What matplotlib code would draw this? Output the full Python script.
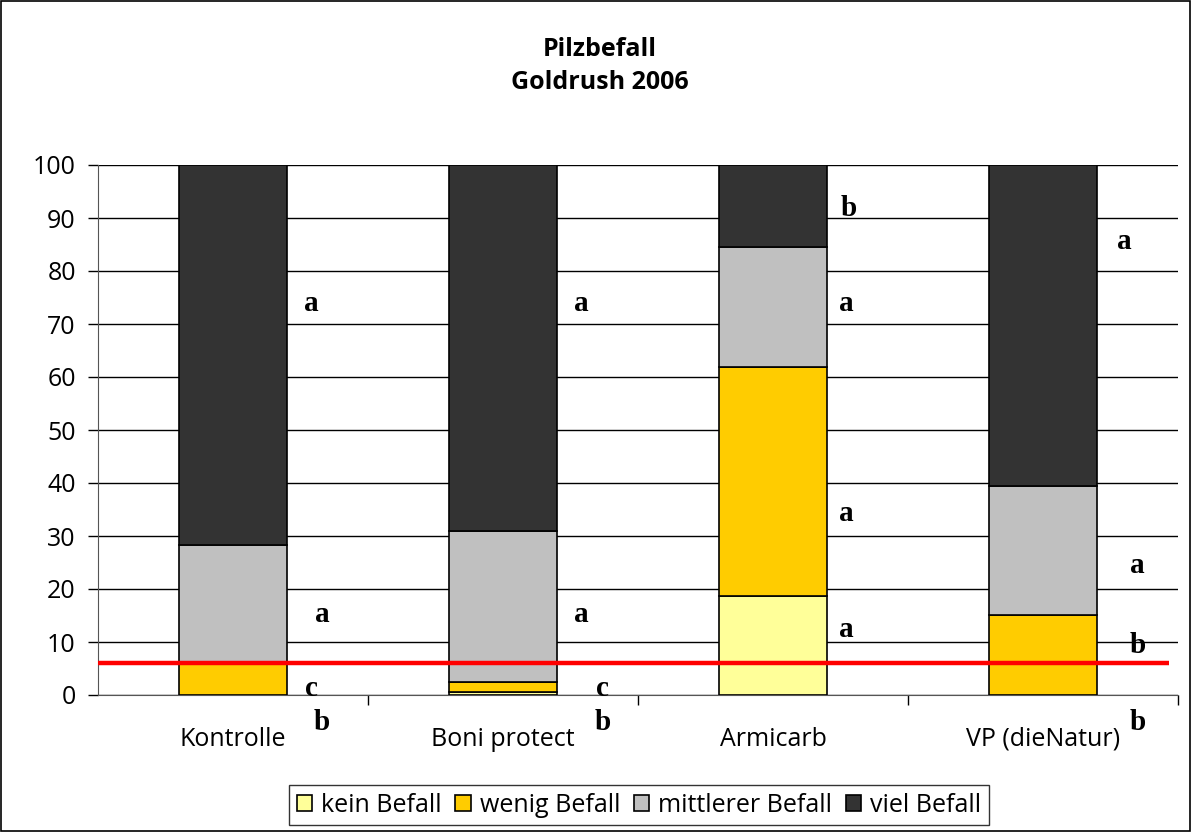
import matplotlib
matplotlib.use("Agg")
import matplotlib.pyplot as plt
from matplotlib.patches import Rectangle, Patch
import numpy as np

categories = ["Kontrolle", "Boni protect", "Armicarb", "VP (dieNatur)"]
series_names = ["kein Befall", "wenig Befall", "mittlerer Befall", "viel Befall"]
kein = [0.0, 0.5, 18.7, 0.0]
wenig = [6.0, 2.0, 43.2, 15.1]
mittlerer = [22.3, 28.4, 22.6, 24.3]
viel = [71.7, 69.1, 15.5, 60.6]
colors = ["#FFFF99", "#FFCC00", "#C0C0C0", "#333333"]
threshold = 6.0
yticks = list(range(0, 101, 10))

# significance letters: (category x, y, letter)
letter_x = [0.29, 0.33, 0.29, 0.33,
            1.29, 1.29, 1.37, 1.37,
            2.28, 2.27, 2.27, 2.27,
            3.30, 3.35, 3.35, 3.35]
letter_y = [73.8, 15.1, 1.3, -5.1,
            73.8, 15.1, 1.3, -5.1,
            91.7, 73.8, 34.3, 12.3,
            85.5, 24.5, 9.4, -5.1]
letter_txt = ["a", "a", "c", "b",
              "a", "a", "c", "b",
              "b", "a", "a", "a",
              "a", "a", "b", "b"]

FONT = "Open Sans"
plt.rcParams["font.family"] = [FONT, "DejaVu Sans"]

fig = plt.figure(figsize=(11.92, 8.32), dpi=100)
ax = fig.add_axes([98/1192, 137/832, 1080/1192, 530/832])

x = np.arange(len(categories))
bottom = np.zeros(len(categories))
for vals, col, name in zip([kein, wenig, mittlerer, viel], colors, series_names):
    ax.bar(x, vals, width=0.4, bottom=bottom, color=col, edgecolor="black",
           linewidth=1.2, label=name, zorder=3)
    bottom += np.array(vals)

ax.set_xlim(-0.5, len(categories) - 0.5)
ax.set_ylim(0, 100)
ax.set_yticks(yticks)
ax.yaxis.grid(True, color="black", linewidth=1.0, zorder=0)
ax.set_axisbelow(True)
ax.tick_params(axis="y", labelsize=18, length=7, width=1, pad=9, direction="out")
ax.set_xticks(x)
ax.set_xticklabels(categories, fontsize=18)
ax.set_xticks(np.arange(-0.5, len(categories), 1.0)[1:], minor=True)
ax.tick_params(axis="x", which="major", length=0, pad=23)
ax.tick_params(axis="x", which="minor", length=7, width=1, direction="out")
for s in ["top", "right"]:
    ax.spines[s].set_visible(False)
ax.spines["left"].set_color("#555555")
ax.spines["bottom"].set_color("#555555")

ax.plot([-0.5, 3.467], [threshold, threshold], color="#FF0000", linewidth=3.2,
        zorder=5, clip_on=False, solid_capstyle="butt")

for lx, ly, lt in zip(letter_x, letter_y, letter_txt):
    ax.text(lx, ly, lt, fontsize=21, fontweight="bold", family="Liberation Serif",
            ha="center", va="center", clip_on=False, zorder=6)

fig.text(600/1192, 1 - 66/832, "Pilzbefall\nGoldrush 2006", ha="center", va="center",
         fontsize=18, fontweight="bold", linespacing=1.45)

handles = [Patch(facecolor=c, edgecolor="black", linewidth=1.2) for c in colors]
leg = fig.legend(handles, series_names, loc="center", bbox_to_anchor=(639/1192, 1 - 805/832),
                 ncol=4, fontsize=18, frameon=True, fancybox=False, edgecolor="black",
                 handlelength=0.62, handleheight=0.62, handletextpad=0.35, columnspacing=0.55,
                 borderpad=0.3)
leg.get_frame().set_linewidth(1.0)

fig.patches.append(Rectangle((1/1192, 1/832), 1189/1192, 830/832, transform=fig.transFigure,
                             fill=False, edgecolor="black", linewidth=1.2))

fig.savefig("out.png", dpi=100)
